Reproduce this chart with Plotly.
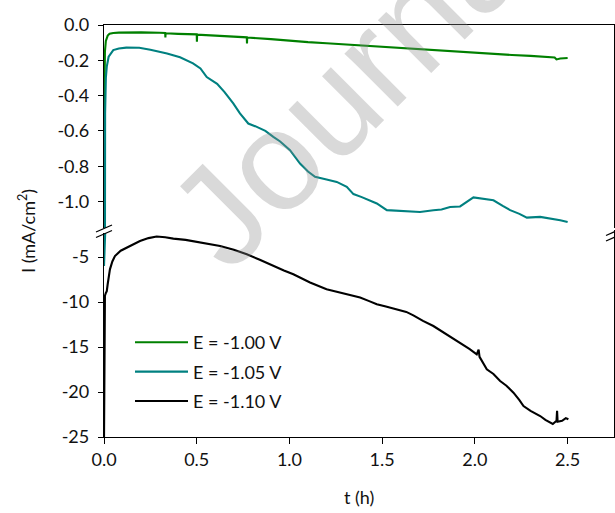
import plotly.graph_objects as go

# ---------------- data ----------------
t_100 = [0, 0.002, 0.005, 0.01, 0.02, 0.03, 0.05, 0.08, 0.12, 0.2, 0.3, 0.33, 0.331, 0.332,
         0.4, 0.5, 0.501, 0.502, 0.6, 0.7, 0.77, 0.771, 0.772, 0.9, 1.0, 1.1, 1.2, 1.3, 1.4,
         1.5, 1.6, 1.7, 1.8, 1.9, 2.0, 2.1, 2.2, 2.3, 2.4, 2.43, 2.44, 2.46, 2.5]
i_100 = [-0.6, -0.3, -0.15, -0.09, -0.06, -0.05, -0.045, -0.043, -0.042, -0.042, -0.044, -0.045, -0.07, -0.047,
         -0.05, -0.053, -0.095, -0.055, -0.06, -0.066, -0.07, -0.105, -0.071, -0.08, -0.09, -0.097, -0.103, -0.11, -0.117,
         -0.122, -0.13, -0.137, -0.143, -0.152, -0.158, -0.164, -0.17, -0.175, -0.181, -0.184, -0.195, -0.19, -0.187]

t_105 = [0, 0.003, 0.006, 0.01, 0.015, 0.025, 0.05, 0.08, 0.12, 0.19, 0.25, 0.34, 0.41, 0.48, 0.52,
         0.554, 0.59, 0.61, 0.65, 0.697, 0.733, 0.778, 0.824, 0.87, 0.913, 0.95, 1.003, 1.057, 1.1,
         1.138, 1.2, 1.255, 1.309, 1.345, 1.39, 1.435, 1.471, 1.525, 1.6, 1.704, 1.776, 1.82, 1.866,
         1.92, 1.992, 2.046, 2.1, 2.15, 2.19, 2.24, 2.28, 2.352, 2.4, 2.46, 2.5]
i_105 = [-6.0, -1.0, -0.5, -0.3, -0.236, -0.18, -0.142, -0.133, -0.128, -0.129, -0.14, -0.161, -0.183, -0.217, -0.246,
         -0.295, -0.321, -0.333, -0.38, -0.444, -0.501, -0.558, -0.577, -0.6, -0.634, -0.66, -0.709, -0.785, -0.83,
         -0.86, -0.875, -0.889, -0.917, -0.958, -0.975, -0.993, -1.011, -1.049, -1.052, -1.059, -1.049, -1.045, -1.031,
         -1.028, -0.977, -0.987, -0.993, -1.025, -1.049, -1.07, -1.091, -1.087, -1.095, -1.106, -1.116]

t_110 = [0, 0.003, 0.005, 0.01, 0.015, 0.02, 0.032, 0.045, 0.059, 0.09, 0.122, 0.16, 0.194, 0.24, 0.284,
         0.33, 0.374, 0.44, 0.5, 0.56, 0.626, 0.7, 0.77, 0.84, 0.913, 0.97, 1.021, 1.057, 1.111, 1.2,
         1.3, 1.381, 1.43, 1.471, 1.52, 1.578, 1.63, 1.668, 1.72, 1.776, 1.85, 1.92, 1.97, 2.01, 2.02,
         2.025, 2.064, 2.1, 2.136, 2.17, 2.208, 2.24, 2.262, 2.3, 2.352, 2.38, 2.406, 2.42, 2.44, 2.443,
         2.446, 2.47, 2.49, 2.504]
i_110 = [-25.5, -12.0, -9.3, -9.0, -8.8, -8.0, -6.37, -5.5, -4.89, -4.3, -3.96, -3.55, -3.22, -2.9, -2.73,
         -2.8, -2.96, -3.1, -3.33, -3.5, -3.78, -4.2, -4.7, -5.3, -6.0, -6.5, -6.92, -7.29, -7.84, -8.59,
         -9.1, -9.51, -9.9, -10.26, -10.5, -10.81, -11.1, -11.48, -12.1, -12.67, -13.6, -14.51, -15.2, -15.81, -15.3,
         -16.1, -17.48, -18.0, -18.78, -19.3, -20.07, -20.9, -21.56, -22.1, -22.67, -23.1, -23.4, -23.55, -23.2, -22.1,
         -23.3, -23.2, -22.9, -23.03]

series_names = ["E = -1.00 V", "E = -1.05 V", "E = -1.10 V"]
series_colors = ["#008000", "#008080", "#000000"]
x_ticks = [0, 0.5, 1.0, 1.5, 2.0, 2.5]
x_ticklabels = ["0.0", "0.5", "1.0", "1.5", "2.0", "2.5"]
top_ticks = [0, -0.2, -0.4, -0.6, -0.8, -1.0]
top_ticklabels = ["0.0", "-0.2", "-0.4", "-0.6", "-0.8", "-1.0"]
bot_ticks = [-5, -10, -15, -20, -25]
bot_ticklabels = ["-5", "-10", "-15", "-20", "-25"]

# ---------------- figure ----------------
W, H = 615, 513
ML, MR, MT, MB = 104, 1, 25, 76
PW, PH = W - ML - MR, H - MT - MB

def px_x(p):
    return (p - ML) / PW

def px_y(p):
    return (H - MB - p) / PH

FONT = "Lato, 'Open Sans', sans-serif"
fig = go.Figure()

data = [(t_100, i_100), (t_105, i_105), (t_110, i_110)]
for k, (tt, ii) in enumerate(data):
    # top panel
    fig.add_trace(go.Scatter(x=tt, y=ii, mode="lines", xaxis="x2", yaxis="y2",
                             line=dict(color=series_colors[k], width=2.1),
                             showlegend=False, hoverinfo="skip"))
for k, (tt, ii) in enumerate(data):
    # bottom panel
    fig.add_trace(go.Scatter(x=tt, y=ii, mode="lines", xaxis="x", yaxis="y",
                             name=series_names[k], legendgroup="g%d" % k,
                             line=dict(color=series_colors[k], width=2.1)))

axis_common = dict(showline=True, linecolor="#000", linewidth=1.3, showgrid=False,
                   zeroline=False, ticks="outside", tickcolor="#000", tickwidth=1.3,
                   tickfont=dict(family=FONT, size=18, color="#111"))

split_top = px_y(228)
split_bot = px_y(230)

fig.update_layout(
    width=W, height=H,
    margin=dict(l=ML, r=MR, t=MT, b=MB),
    paper_bgcolor="white", plot_bgcolor="white",
    xaxis=dict(range=[0, 2.75], domain=[0, 1], anchor="y", tickvals=x_ticks,
               ticktext=x_ticklabels, ticklen=6, **axis_common),
    xaxis2=dict(range=[0, 2.75], domain=[0, 1], anchor="y2", side="top", matches="x",
                showline=True, linecolor="#000", linewidth=1.3, showgrid=False,
                zeroline=False, ticks="", showticklabels=False),
    yaxis=dict(range=[-25, -2], domain=[0, split_bot], anchor="x", tickvals=bot_ticks,
               ticktext=bot_ticklabels, ticklen=5, mirror=True, ticklabelstandoff=5,
               **axis_common),
    yaxis2=dict(range=[-1.15, 0], domain=[split_top, 1], anchor="x2", tickvals=top_ticks,
                ticktext=top_ticklabels, ticklen=5, mirror=True, ticklabelstandoff=5,
                **axis_common),
    legend=dict(x=px_x(130), y=px_y(324), xanchor="left", yanchor="top",
                bgcolor="rgba(0,0,0,0)", itemwidth=53,
                font=dict(family=FONT, size=18, color="#111"), tracegroupgap=3),
    showlegend=True,
)

# axis titles
fig.add_annotation(text="I (mA/cm<sup>2</sup>)", xref="paper", yref="paper",
                   x=px_x(27), y=0.5, xanchor="center", yanchor="middle",
                   textangle=-90, showarrow=False,
                   font=dict(family=FONT, size=18, color="#111"))
fig.add_annotation(text="t (h)", xref="paper", yref="paper",
                   x=0.5, y=px_y(497), xanchor="center", yanchor="middle", showarrow=False,
                   font=dict(family=FONT, size=18, color="#111"))

# axis break marks
def brk(cx, cy):
    fig.add_shape(type="line", xref="paper", yref="paper",
                  x0=px_x(cx - 8), y0=px_y(cy + 3.5), x1=px_x(cx + 8), y1=px_y(cy - 3.5),
                  line=dict(color="#000", width=1.3))

fig.add_shape(type="rect", xref="paper", yref="paper", x0=px_x(100), x1=px_x(108),
              y0=px_y(233), y1=px_y(228), fillcolor="white", line=dict(width=0))
brk(104, 228.5)
brk(104, 234)
brk(614, 232)
brk(614, 237.5)

# watermark
fig.add_annotation(text="Journal", xref="paper", yref="paper", x=px_x(359), y=px_y(76),
                   xanchor="center", yanchor="middle",
                   textangle=-45, showarrow=False,
                   font=dict(family="Liberation Sans, Arial, sans-serif", size=142,
                             color="rgba(140,140,140,0.33)"))

fig.write_html("out.html", config={"displayModeBar": False},
               post_script="document.body.style.margin='0px';")
